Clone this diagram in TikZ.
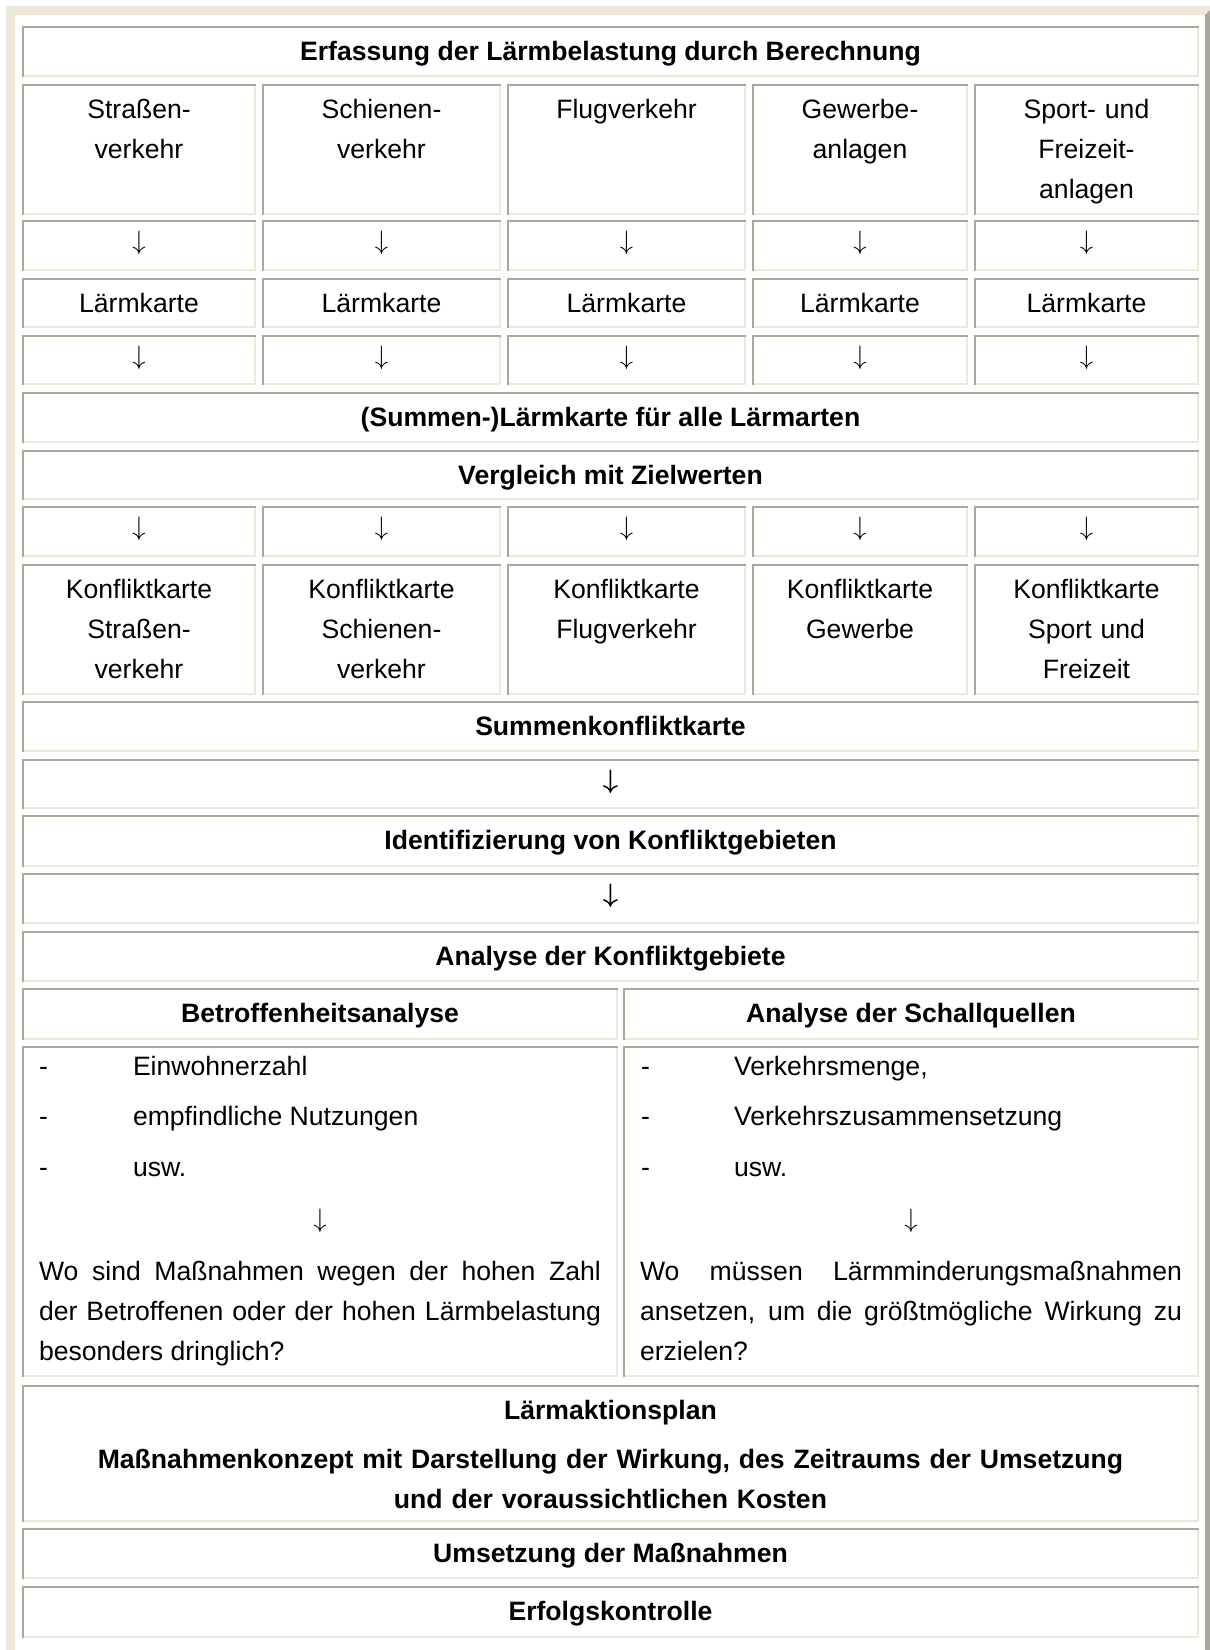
\documentclass[tikz,border=0pt]{standalone}
\usepackage{fix-cm}
\usepackage{fontspec}
\setmainfont{Liberation Sans}
\definecolor{dk}{HTML}{ACA899}
\definecolor{lt}{HTML}{ECE9D8}

\tikzset{
  cellbox/.style={rectangle, inner sep=0pt, outer sep=0pt, anchor=north west, fill=white,
    path picture={
      \fill[dk] (path picture bounding box.north west) rectangle ([yshift=-2pt]path picture bounding box.north east);
      \fill[dk] (path picture bounding box.north west) rectangle ([xshift=2pt]path picture bounding box.south west);
      \fill[lt] ([xshift=2pt]path picture bounding box.south west) rectangle ([yshift=2pt]path picture bounding box.south east);
      \fill[lt] ([yshift=-2pt]path picture bounding box.north east) rectangle ([xshift=-2pt]path picture bounding box.south east);
    }},
  txt/.style={inner sep=0pt, outer sep=0pt, anchor=base, align=center, text=black,
    font=\fontsize{26.6}{40}\selectfont},
  btxt/.style={txt, font=\fontsize{26.6}{40}\selectfont\bfseries},
  ltxt/.style={inner sep=0pt, outer sep=0pt, anchor=base west, text=black,
    font=\fontsize{26.6}{40}\selectfont},
}

% one table cell with inset border: name, x1, y1, x2, y2 (pixels, y downwards)
\newcommand\mkcell[5]{%
  \pgfmathsetmacro\cellw{#4-#2}\pgfmathsetmacro\cellh{#5-#3}%
  \node[cellbox, minimum width=\cellw pt, minimum height=\cellh pt] (#1) at (#2,#3) {};}
% thin and bold down arrows
\newcommand\darr{$\downarrow$}
\newcommand\bdarr{{\boldmath$\downarrow$}}

\begin{document}
\begin{tikzpicture}[x=1pt, y=-1pt]
\useasboundingbox (0,0) rectangle (1210,1650);
\fill[white] (0,0) rectangle (1210,1650);

% outer table frame (outset)
\fill[lt] (6,6) -- (1214,6) -- (1205,15) -- (15,15) -- (15,1650) -- (6,1650) -- cycle;
\fill[dk] (1214,6) -- (1214,1650) -- (1205,1650) -- (1205,15) -- cycle;

% title
\mkcell{title}{22}{26}{1199}{77}
\node[btxt] (titlet) at ([yshift=-34pt]title.north) {Erfassung der Lärmbelastung durch Berechnung};

% sources
\foreach \i/\a/\b/\t in {1/22/256/{Straßen-\\verkehr}, 2/262/501/{Schienen-\\verkehr},
    3/507/746/{Flugverkehr}, 4/752/968/{Gewerbe-\\anlagen}, 5/974/1199/{Sport- und\\Freizeit-\\anlagen}} {
  \mkcell{src\i}{\a}{84}{\b}{215}
  \node[txt, text width=200pt] (srct\i) at ([yshift=-34pt]src\i.north) {\t};
}

% arrow rows between five columns
\foreach \r/\ya/\yb in {a/220/271, b/335/385, c/506/557} {
  \foreach \i/\a/\b in {1/22/256, 2/262/501, 3/507/746, 4/752/968, 5/974/1199} {
    \mkcell{arr\r\i}{\a}{\ya}{\b}{\yb}
    \node[txt] (arrt\r\i) at ([yshift=-29.5pt]arr\r\i.north) {\darr};
  }
}

% noise maps
\foreach \i/\a/\b in {1/22/256, 2/262/501, 3/507/746, 4/752/968, 5/974/1199} {
  \mkcell{map\i}{\a}{278}{\b}{328}
  \node[txt] (mapt\i) at ([yshift=-34pt]map\i.north) {Lärmkarte};
}

\mkcell{summap}{22}{392}{1199}{443}
\node[btxt] (summapt) at ([yshift=-34pt]summap.north) {(Summen-)Lärmkarte für alle Lärmarten};

\mkcell{cmp}{22}{450}{1199}{500}
\node[btxt] (cmpt) at ([yshift=-34pt]cmp.north) {Vergleich mit Zielwerten};

% conflict maps
\foreach \i/\a/\b/\t in {1/22/256/{Konfliktkarte\\Straßen-\\verkehr}, 2/262/501/{Konfliktkarte\\Schienen-\\verkehr},
    3/507/746/{Konfliktkarte\\Flugverkehr}, 4/752/968/{Konfliktkarte\\Gewerbe}, 5/974/1199/{Konfliktkarte\\Sport und\\Freizeit}} {
  \mkcell{con\i}{\a}{564}{\b}{695}
  \node[txt, text width=200pt] (cont\i) at ([yshift=-34pt]con\i.north) {\t};
}

\mkcell{sumcon}{22}{701}{1199}{752}
\node[btxt] (sumcont) at ([yshift=-34pt]sumcon.north) {Summenkonfliktkarte};

\mkcell{arrd}{22}{759}{1199}{809}
\node[btxt] (arrdt) at ([yshift=-29.5pt]arrd.north) {\bdarr};

\mkcell{ident}{22}{815}{1199}{867}
\node[btxt] (identt) at ([yshift=-34pt]ident.north) {Identifizierung von Konfliktgebieten};

\mkcell{arre}{22}{873}{1199}{924}
\node[btxt] (arret) at ([yshift=-29.5pt]arre.north) {\bdarr};

\mkcell{anal}{22}{931}{1199}{982}
\node[btxt] (analt) at ([yshift=-34pt]anal.north) {Analyse der Konfliktgebiete};

% two analysis columns
\mkcell{betr}{22}{988}{618}{1040}
\node[btxt] (betrt) at ([yshift=-34pt]betr.north) {Betroffenheitsanalyse};
\mkcell{schall}{623}{988}{1199}{1040}
\node[btxt] (schallt) at ([yshift=-34pt]schall.north) {Analyse der Schallquellen};

\mkcell{betrl}{22}{1046}{618}{1377}
\mkcell{schalll}{623}{1046}{1199}{1377}

% left list
\node[ltxt] (bd1) at (39,1075) {-};
\node[ltxt] (bi1) at (133,1075) {Einwohnerzahl};
\node[ltxt] (bd2) at (39,1125) {-};
\node[ltxt] (bi2) at (133,1125) {empfindliche Nutzungen};
\node[ltxt] (bd3) at (39,1176) {-};
\node[ltxt] (bi3) at (133,1176) {usw.};
\node[txt] (barr) at (320,1227) {\darr};
\node[ltxt] (bq1) at (39,1280) {\makebox[562pt][s]{Wo sind Maßnahmen wegen der hohen Zahl}};
\node[ltxt] (bq2) at (39,1320) {\makebox[562pt][s]{der Betroffenen oder der hohen Lärmbelastung}};
\node[ltxt] (bq3) at (39,1360) {besonders dringlich?};

% right list
\node[ltxt] (sd1) at (641,1075) {-};
\node[ltxt] (si1) at (734,1075) {Verkehrsmenge,};
\node[ltxt] (sd2) at (641,1125) {-};
\node[ltxt] (si2) at (734,1125) {Verkehrszusammensetzung};
\node[ltxt] (sd3) at (641,1176) {-};
\node[ltxt] (si3) at (734,1176) {usw.};
\node[txt] (sarr) at (911,1227) {\darr};
\node[ltxt] (sq1) at (640,1280) {\makebox[542pt][s]{Wo müssen Lärmminderungsmaßnahmen}};
\node[ltxt] (sq2) at (640,1320) {\makebox[542pt][s]{ansetzen, um die größtmögliche Wirkung zu}};
\node[ltxt] (sq3) at (640,1360) {erzielen?};

% action plan
\mkcell{plan}{22}{1385}{1199}{1522}
\node[btxt] (plant) at ([yshift=-34pt]plan.north) {Lärmaktionsplan};
\node[btxt, text width=1160pt] (plant2) at ([yshift=-83pt]plan.north) {Maßnahmenkonzept mit Darstellung der Wirkung, des Zeitraums der Umsetzung\\und der voraussichtlichen Kosten};

\mkcell{ums}{22}{1528}{1199}{1579}
\node[btxt] (umst) at ([yshift=-34pt]ums.north) {Umsetzung der Maßnahmen};

\mkcell{erf}{22}{1586}{1199}{1638}
\node[btxt] (erft) at ([yshift=-34pt]erf.north) {Erfolgskontrolle};
\end{tikzpicture}
\end{document}
